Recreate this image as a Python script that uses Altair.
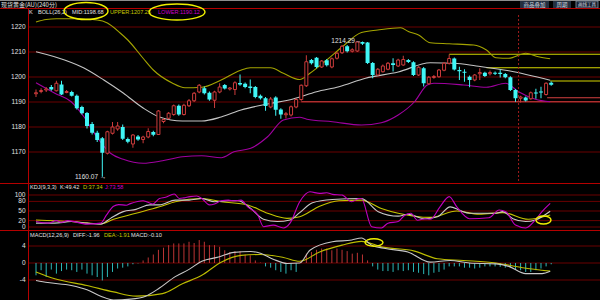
import altair as alt
import pandas as pd

# ---------------- data ----------------
idx = list(range(102))
opens = [1193.3,1194.2,1194.8,1196.0,1194.5,1197.0,1193.8,1194.0,1192.5,1188.0,
         1185.6,1181.2,1177.7,1175.5,1169.5,1177.5,1179.2,1180.0,1175.2,1173.2,
         1176.2,1175.0,1176.0,1178.0,1177.0,1182.2,1183.5,1185.0,1188.5,1185.0,
         1188.5,1190.5,1194.0,
         1195.5,1193.7,1190.7,1194.0,1196.8,1195.2,1195.0,1197.6,1197.3,1196.2,
         1196.0,1192.5,1191.5,1188.0,1191.8,1187.0,1184.9,1184.8,1188.0,1191.0,
         1196.5,1206.8,1207.7,1204.0,1206.7,1204.0,1207.5,1209.7,1212.3,1210.3,
         1210.4,1214.0,1213.8,1205.6,1200.8,1202.1,1203.1,1205.5,1204.4,
         1204.8,1206.8,1205.9,1200.8,1203.5,1197.3,1199.8,1200.1,1202.7,1205.5,
         1207.4,1202.8,1202.1,1200.1,1198.8,1201.3,1201.7,1201.3,1201.7,1201.7,
         1201.2,1199.9,1194.8,1191.5,1191.8,1191.3,1193.8,1194.2,1193.0,1197.7]
closes = [1193.7,1194.6,1195.2,1195.0,1197.5,1193.0,1194.2,1192.5,1187.5,1185.5,
          1180.4,1177.7,1174.8,1169.7,1178.1,1180.0,1180.4,1175.3,1174.1,1176.8,
          1175.0,1176.0,1178.2,1176.9,1186.4,1183.0,1185.5,1188.5,1185.0,1188.7,
          1190.5,1193.5,1196.7,
          1193.5,1191.0,1194.0,1196.0,1195.4,1195.6,1197.7,1197.0,1196.0,1195.6,
          1192.0,1191.5,1188.4,1191.2,1186.9,1185.0,1185.3,1188.1,1191.0,1196.7,
          1206.1,1205.5,1204.0,1206.4,1204.7,1207.3,1209.5,1212.3,1210.3,1210.9,
          1214.0,1213.3,1205.6,1200.8,1203.1,1204.4,1205.5,1204.8,1206.8,
          1207.0,1206.0,1200.8,1203.9,1197.5,1199.9,1200.2,1202.8,1205.5,1207.4,
          1203.0,1202.3,1201.7,1198.8,1200.8,1201.8,1200.4,1201.8,1201.3,1201.2,
          1199.9,1194.8,1191.5,1192.0,1190.6,1193.7,1193.4,1193.8,1197.5,1196.9]
highs = [1195.0,1195.5,1196.0,1196.8,1198.5,1198.5,1194.8,1194.5,1193.0,1188.5,
         1186.0,1182.0,1178.5,1176.0,1178.5,1182.0,1182.0,1181.0,1175.8,1177.2,
         1176.8,1176.5,1179.5,1178.5,1186.8,1183.5,1186.0,1189.0,1189.0,1189.3,
         1191.2,1194.0,1197.2,
         1196.2,1194.2,1194.5,1197.5,1197.2,1196.0,1198.3,1201.0,1197.8,1199.0,
         1196.4,1193.0,1192.0,1192.0,1192.3,1187.5,1186.0,1188.6,1191.5,1197.0,
         1208.7,1207.2,1208.0,1206.8,1207.2,1207.8,1210.0,1212.8,1212.8,1211.5,
         1214.29,1214.2,1214.0,1206.0,1203.6,1205.0,1206.0,1207.5,1207.3,
         1208.5,1207.2,1206.3,1204.3,1204.0,1200.4,1200.8,1203.2,1206.0,1209.0,
         1207.8,1204.1,1203.1,1200.6,1201.2,1203.5,1202.1,1202.6,1202.2,1203.0,
         1201.6,1200.3,1195.2,1192.5,1192.2,1194.2,1195.3,1196.1,1197.9,1198.2]
lows = [1192.0,1193.5,1194.0,1194.5,1194.2,1192.8,1193.5,1192.2,1187.0,1185.0,
        1179.4,1177.0,1174.0,1160.07,1169.0,1177.0,1178.5,1174.8,1173.5,1171.7,
        1174.5,1173.5,1175.5,1176.3,1176.8,1181.5,1183.0,1184.5,1184.5,1184.6,
        1188.0,1190.0,1193.5,
        1193.0,1190.5,1187.6,1193.5,1195.0,1194.6,1192.8,1196.5,1195.5,1193.5,
        1191.5,1191.0,1186.5,1187.5,1184.5,1183.3,1183.4,1184.2,1187.5,1190.5,
        1196.0,1205.0,1203.5,1203.6,1204.2,1203.5,1207.0,1209.2,1209.8,1209.8,
        1210.0,1212.8,1205.2,1199.5,1200.4,1201.8,1202.7,1202.2,1204.0,
        1204.5,1205.6,1200.4,1200.4,1196.2,1197.0,1199.3,1199.7,1202.3,1205.0,
        1202.6,1198.8,1198.1,1195.9,1198.3,1198.8,1200.0,1200.6,1200.8,1199.8,
        1199.5,1194.4,1190.1,1189.8,1190.2,1190.9,1191.3,1191.5,1192.6,1196.5]

# Bollinger bands (sampled along the candle index)
upper_i = [0, 2, 4, 8, 12, 14, 16.5, 18, 21, 23, 26.7, 29.2, 32.5, 36.3, 40, 42, 46, 48.5,
           51.7, 53.7, 57, 60, 63.8, 67, 71.5, 73, 75, 77.3, 81, 85.8, 88.3, 90.2, 92.7,
           96, 98.5, 100.8]
upper_v = [1222.0, 1223.0, 1223.3, 1223.3, 1222.8, 1221.6, 1217.6, 1214.8, 1207.5, 1202.8,
           1197.6, 1195.7, 1195.9, 1198.8, 1202.6, 1203.7, 1203.7, 1201.5, 1199.0, 1201.5,
           1206.8, 1212.0, 1217.8, 1218.8, 1219.7, 1218.2, 1216.8, 1213.7, 1213.3, 1212.8,
           1210.8, 1207.7, 1207.5, 1209.5, 1208.1, 1207.3]
mid_i = [0, 5.6, 9.4, 13.3, 17.1, 21, 24.2, 28.7, 32.5, 36.3, 40.2, 45.4, 50.4, 55, 59.4,
         64.6, 71, 77.3, 82, 86.3, 92.7, 100.8]
mid_v = [1210.1, 1206.8, 1203.6, 1198.8, 1193.6, 1187.6, 1184.0, 1182.4, 1182.4, 1184.0,
         1186.8, 1189.2, 1191.2, 1194.1, 1196.1, 1199.5, 1202.0, 1205.7, 1205.5, 1204.4,
         1202.5, 1198.7]
lower_i = [0, 3.7, 6.9, 9.4, 11.9, 14.6, 17.1, 21, 24.8, 28.7, 32.5, 36.3, 38.8, 42.1, 45.4,
           48.5, 51.7, 53.1, 58.1, 63.8, 67.7, 71, 74.2, 76.7, 78, 83.8, 88.3, 92.1, 94.6,
           97.9, 100.8]
lower_v = [1197.7, 1193.5, 1190.1, 1184.1, 1176.1, 1169.5, 1167.1, 1165.5, 1166.5, 1168.1,
           1168.5, 1167.7, 1170.1, 1171.5, 1176.1, 1182.8, 1183.9, 1183.1, 1182.1, 1180.8,
           1181.7, 1184.8, 1190.1, 1196.8, 1197.5, 1196.8, 1195.9, 1197.5, 1194.1, 1191.1,
           1190.1]

# KDJ
j_i = [0, 2.3, 4, 5, 6.2, 10, 12.7, 13.8, 15.2, 16.2, 17.7, 18.5, 21, 22.9, 24.2, 25.4, 27.1,
       28.1, 29, 30.2, 31.5, 32.5, 34, 35, 36.3, 37.7, 38.8, 40.2, 41.5, 43.5, 44.6, 46.5,
       48.5, 49.8, 51.7, 53.7, 55.6, 57, 58.1, 60, 61.9, 63.3, 63.8, 65.8, 67.7, 69, 71, 72.3,
       73.5, 74.8, 76.2, 77.3, 79.2, 81, 82.5, 85, 88.8, 90.8, 92.1, 94, 96, 97.9, 99.2, 100.8]
j_v = [17, 12, 20, 15, 20, 9, 12, 37, 65, 70, 68, 73, 82, 72, 89, 93, 103, 89, 91, 95, 97, 89,
       69, 72, 82, 84, 82, 84, 63, 37, 1, 6, -3, 12, 79, 110, 105, 107, 102, 100, 79, 89, 89,
       1, -3, 12, 17, 37, 43, 21, 26, 24, 63, 95, 63, 26, 29, 53, 48, 6, -3, 22, 48, 73.6]
k_i = [0, 3.7, 6.9, 10, 12.7, 14.6, 17.1, 19.6, 22.3, 24.2, 27.3, 30, 32.5, 35, 37.7, 39.6,
       42.1, 44.6, 47.3, 49.8, 51.7, 54.2, 58.1, 63.8, 67.1, 71, 72.9, 76.2, 78.7, 81.2, 83.1,
       85, 90.2, 91.5, 93.5, 96, 97.9, 100.8]
k_v = [12, 12, 17, 12, 9, 27, 48, 55, 69, 69, 84, 84, 89, 79, 82, 82, 58, 24, 17, 22, 45, 76,
       86, 89, 48, 34, 40, 26, 32, 63, 52, 43, 43, 48, 26, 17, 22, 49.4]
d_i = [0, 6.9, 12.7, 15.2, 19.6, 24.2, 27.3, 32.5, 36.3, 41.5, 45.4, 49.2, 51.7, 55.6, 59.4,
       63.8, 67.7, 71, 77.3, 82.5, 86.9, 91.5, 96.5, 100.8]
d_v = [22, 17, 10, 24, 43, 63, 79, 89, 79, 69, 43, 27, 32, 65, 82, 84, 58, 43, 30, 50, 40, 45,
       24, 37.3]

# MACD
hist = [-2.9, -1.7, -3.3, -1.55, -2.5, -1.9, -1.55, -1.7, -2.1, -1.55,
        -2.5, -2.9, -3.3, -4.1, -3.3, -2.1, -1.3, -1.1, -0.8, -0.3,
        -0.1, 0.6, 1.3, 2.0, 3.1, 3.6, 4.2, 4.6, 4.6, 4.6,
        5.0, 4.7, 5.4, 5.0, 4.2, 4.2, 3.8, 3.0, 2.6, 2.8,
        2.8, 2.0, 1.8, 0.6, 0.1, -0.8, -1.1, -1.7, -2.1, -2.5,
        -1.7, -2.1, 0.6, 2.2, 2.6, 3.1, 3.4, 3.4, 3.0, 3.4,
        3.1, 2.8, 2.2, 2.4, 2.0, 0.6, -0.8, -1.55, -1.9, -1.9,
        -2.1, -1.7, -1.9, -1.7, -2.1, -2.3, -2.6, -2.9, -2.3, -2.1,
        -1.55, -0.8, -0.8, -0.8, -1.1, -1.1, -1.3, -1.1, -0.8, -0.8,
        -0.8, -0.9, -1.1, -1.1, -1.55, -1.7, -2.1, -2.1, -1.7, -1.3,
        -0.8, -0.3]
diff_i = [0, 2.3, 6.9, 10, 12.7, 15.2, 18.5, 21.5, 24.2, 27.3, 30, 32.5, 35.8, 38.8, 42.1, 44,
          46.5, 49.2, 51.7, 53.7, 58.1, 61.9, 63.8, 65.8, 68.5, 72.9, 77.3, 81.2, 85, 90.2,
          92.7, 96, 99.2, 100.8]
diff_v = [-4.1, -4.6, -5.3, -6.3, -7.8, -8.7, -8.5, -7.8, -5.9, -3.2, -1.5, 0.4, 1.4, 2.5, 2.7,
          2.3, 0.9, -0.1, 0.0, 3.0, 5.0, 5.4, 5.9, 4.2, 3.4, 2.6, 0.2, 0.6, 0.0, -0.2, -0.8,
          -2.5, -2.5, -1.96]
dea_i = [0, 3.7, 10, 15.2, 19.6, 24.8, 28.7, 32.5, 36.3, 40.2, 44, 48.5, 51.7, 55.6, 60, 63.8,
         67.7, 74.2, 78.7, 83.8, 90.2, 95.4, 100.8]
dea_v = [-2.1, -3.7, -5.3, -6.8, -7.8, -7.2, -4.9, -2.9, 0.2, 1.8, 2.0, 1.3, 0.4, 2.6, 4.2, 5.1,
         3.8, 2.8, 1.0, 0.6, 0.0, -1.1, -1.91]

# axis ticks
price_ticks = [1220, 1210, 1200, 1190, 1180, 1170]
kdj_ticks = [100, 80, 50, 20, 0]
macd_ticks = [4, 0, -4]

# drawn horizontal levels (start index, price)
yellow_lv_i = [81, 88.3, 100.8]
yellow_lv_p = [1209.1, 1203.7, 1198.4]
red_lv_i = [52, 100.2]
red_lv_p = [1190.1, 1191.7]
cursor_i = [94.6]

# extreme labels
ext_i = [63, 13]
ext_p = [1214.29, 1160.07]
ext_t = ["1214.29\u2192", "1160.07 \u2192"]

# ---------------- styles ----------------
RED = "#cc3c3c"
CYAN = "#40f6f6"
GRID = "#6a0000"
SEP = "#b40000"
WHITE = "#e0e0e0"
YEL = "#c8c800"
MAG = "#cc00cc"
FONT = "Liberation Sans"

XS = alt.Scale(domain=[0, 101], range=[31, 556.2], nice=False, zero=False)
YP = alt.Scale(domain=[1160, 1220], range=[177, 27], nice=False, zero=False)
YK = alt.Scale(domain=[0, 100], range=[227, 195], nice=False, zero=False)
YM = alt.Scale(domain=[-4, 4], range=[280, 246], nice=False, zero=False)

X = alt.X("i:Q", scale=XS, axis=None)

candles = pd.DataFrame({"i": idx, "o": opens, "h": highs, "l": lows, "c": closes})


def series(xs, ys):
    return pd.DataFrame({"i": xs, "v": ys})


def dummy():
    return alt.Chart(alt.Data(values=[{}]))


def txt(s, x, y, color=WHITE, size=6, align="left", font=FONT):
    return dummy().mark_text(text=s, align=align, baseline="middle", fontSize=size,
                             font=font, color=color).encode(x=alt.value(x), y=alt.value(y))


def hline(y, x0, x1, color, width=1):
    return dummy().mark_rule(color=color, strokeWidth=width).encode(
        x=alt.value(x0), x2=alt.value(x1), y=alt.value(y))


def vline(x, y0, y1, color, width=1):
    return dummy().mark_rule(color=color, strokeWidth=width).encode(
        x=alt.value(x), y=alt.value(y0), y2=alt.value(y1))


def rect(x0, x1, y0, y1, fill, stroke=None):
    kw = {"fill": fill}
    if stroke:
        kw["stroke"] = stroke
        kw["strokeWidth"] = 0.8
    return dummy().mark_rect(**kw).encode(
        x=alt.value(x0), x2=alt.value(x1), y=alt.value(y0), y2=alt.value(y1))


def ell_path(k):
    c = 0.5523
    return (f"M -1 0 C -1 {-c*k:.3f} {-c:.3f} {-k:.3f} 0 {-k:.3f} "
            f"C {c:.3f} {-k:.3f} 1 {-c*k:.3f} 1 0 "
            f"C 1 {c*k:.3f} {c:.3f} {k:.3f} 0 {k:.3f} "
            f"C {-c:.3f} {k:.3f} -1 {c*k:.3f} -1 0 Z")


def ellipse(cx, cy, w, h):
    return dummy().mark_point(shape=ell_path(h / w), size=w * w, filled=False,
                              stroke="#f0f000", strokeWidth=1.4, opacity=1).encode(
        x=alt.value(cx), y=alt.value(cy))


# ---------------- main (price) panel ----------------
grid_main = alt.Chart(pd.DataFrame({"v": price_ticks})).mark_rule(color=GRID).encode(
    y=alt.Y("v:Q", scale=YP, axis=None), x=alt.value(29), x2=alt.value(600))
lab_main = alt.Chart(pd.DataFrame({"v": price_ticks, "t": [str(t) for t in price_ticks]})).mark_text(
    align="right", baseline="middle", fontSize=6.5, font=FONT, color=WHITE).encode(
    y=alt.Y("v:Q", scale=YP, axis=None), x=alt.value(25.5), text="t:N")

lv_y = alt.Chart(pd.DataFrame({"i": yellow_lv_i, "p": yellow_lv_p})).mark_rule(
    color="#d4d400", strokeWidth=1.2).encode(x=X, x2=alt.value(600), y=alt.Y("p:Q", scale=YP, axis=None))
lv_r = alt.Chart(pd.DataFrame({"i": red_lv_i, "p": red_lv_p})).mark_rule(
    color="#d44040", strokeWidth=1.2).encode(x=X, x2=alt.value(600), y=alt.Y("p:Q", scale=YP, axis=None))
cursor = alt.Chart(pd.DataFrame({"i": cursor_i})).mark_rule(
    color="#a01c1c", strokeDash=[2, 2]).encode(x=X, y=alt.value(15), y2=alt.value(183))


def pline(xs, ys, color, scale, width=1.1):
    return alt.Chart(series(xs, ys)).mark_line(color=color, strokeWidth=width,
                                               interpolate="monotone").encode(
        x=X, y=alt.Y("v:Q", scale=scale, axis=None))


upper = pline(upper_i, upper_v, "#a4a400", YP)
mid = pline(mid_i, mid_v, "#c4c4c4", YP)
lower = pline(lower_i, lower_v, "#a000a0", YP)

base = alt.Chart(candles)
wick_up = base.transform_filter("datum.c >= datum.o").mark_rule(color=RED).encode(
    x=X, y=alt.Y("l:Q", scale=YP, axis=None), y2="h:Q")
wick_dn = base.transform_filter("datum.c < datum.o").mark_rule(color=CYAN).encode(
    x=X, y=alt.Y("l:Q", scale=YP, axis=None), y2="h:Q")
body_up = base.transform_filter("datum.c >= datum.o").mark_bar(
    size=3, fill="black", stroke=RED, strokeWidth=1).encode(
    x=X, y=alt.Y("o:Q", scale=YP, axis=None), y2="c:Q")
body_dn = base.transform_filter("datum.c < datum.o").mark_bar(
    size=4, color=CYAN).encode(x=X, y=alt.Y("o:Q", scale=YP, axis=None), y2="c:Q")

ext = alt.Chart(pd.DataFrame({"i": ext_i, "p": ext_p, "t": ext_t})).mark_text(
    align="right", baseline="middle", fontSize=6.5, font=FONT, color=WHITE, dx=4).encode(
    x=X, y=alt.Y("p:Q", scale=YP, axis=None), text="t:N")

main = alt.layer(grid_main, lab_main, lv_r, lv_y, upper, mid, lower,
                 wick_up, wick_dn, body_up, body_dn, cursor, ext)

# ---------------- KDJ panel ----------------
grid_k = alt.Chart(pd.DataFrame({"v": kdj_ticks})).mark_rule(color=GRID).encode(
    y=alt.Y("v:Q", scale=YK, axis=None), x=alt.value(29), x2=alt.value(600))
lab_k = alt.Chart(pd.DataFrame({"v": kdj_ticks, "t": [str(t) for t in kdj_ticks]})).mark_text(
    align="right", baseline="middle", fontSize=6.5, font=FONT, color=WHITE).encode(
    y=alt.Y("v:Q", scale=YK, axis=None), x=alt.value(25.5), text="t:N")
kdj = alt.layer(grid_k, lab_k,
                pline(d_i, d_v, "#c4c400", YK),
                pline(k_i, k_v, "#c8c8c8", YK),
                pline(j_i, j_v, "#c000c0", YK))

# ---------------- MACD panel ----------------
hdf = pd.DataFrame({"i": idx, "v": hist})
grid_m = alt.Chart(pd.DataFrame({"v": macd_ticks})).mark_rule(color=GRID).encode(
    y=alt.Y("v:Q", scale=YM, axis=None), x=alt.value(29), x2=alt.value(600))
lab_m = alt.Chart(pd.DataFrame({"v": macd_ticks, "t": [str(t) for t in macd_ticks]})).mark_text(
    align="right", baseline="middle", fontSize=6.5, font=FONT, color=WHITE).encode(
    y=alt.Y("v:Q", scale=YM, axis=None), x=alt.value(25.5), text="t:N")
h_pos = alt.Chart(hdf).transform_filter("datum.v >= 0").mark_rule(color="#bc3434").encode(
    x=X, y=alt.Y("v:Q", scale=YM, axis=None), y2=alt.datum(0))
h_neg = alt.Chart(hdf).transform_filter("datum.v < 0").mark_rule(color="#2cb8b8").encode(
    x=X, y=alt.Y("v:Q", scale=YM, axis=None), y2=alt.datum(0))
macd = alt.layer(grid_m, lab_m, h_pos, h_neg,
                 pline(dea_i, dea_v, "#bcbc00", YM),
                 pline(diff_i, diff_v, "#c8c8c8", YM))

# ---------------- frame, headers, annotations ----------------
HS = 5.6
decor = alt.layer(
    hline(0.5, 0, 600, "#8c8c8c", 1),
    txt("现货黄金(AU)(240分)", 1, 5, WHITE, 6, font="Noto Sans CJK SC"),
    rect(520, 549, 1, 8, "#243040"),
    txt("商品叠加", 534.5, 4.6, "#d0d8e0", 5.5, align="center", font="Noto Sans CJK SC"),
    rect(553, 571, 1, 8, "#243040"),
    txt("周期", 562, 4.6, "#d0d8e0", 5.5, align="center", font="Noto Sans CJK SC"),
    rect(576, 598, 1, 8, "#1a2430", "#8898a8"),
    txt("画线工具", 587, 4.6, "#d0d8e0", 4.5, align="center", font="Noto Sans CJK SC"),
    hline(8.5, 0, 600, SEP, 1),
    hline(183.5, 0, 600, SEP, 1),
    hline(230.5, 0, 600, SEP, 1),
    vline(28.5, 8.5, 300, SEP, 1),
    txt("K", 29, 12, WHITE, HS),
    txt("BOLL(26,2)", 38, 12, WHITE, HS),
    txt("MID:1198.68", 72, 12, WHITE, HS),
    txt("UPPER:1207.25", 110, 12, YEL, HS),
    txt("LOWER:1190.12", 158, 12, MAG, HS),
    txt("KDJ(9,3,3)", 30, 187, WHITE, HS),
    txt("K:49.42", 60, 187, WHITE, HS),
    txt("D:37.34", 83, 187, YEL, HS),
    txt("J:73.58", 105, 187, MAG, HS),
    txt("MACD(12,26,9)", 30, 235, WHITE, HS),
    txt("DIFF:-1.96", 73, 235, WHITE, HS),
    txt("DEA:-1.91", 104, 235, YEL, HS),
    txt("MACD:-0.10", 131, 235, WHITE, HS),
    ellipse(86, 11, 44, 17),
    ellipse(177, 12, 56, 16),
    ellipse(543.5, 220, 15, 8),
    ellipse(374, 242.5, 18, 7.5),
)

chart = alt.layer(main, kdj, macd, decor).resolve_scale(y="independent").properties(
    width=600, height=300, padding=0,
    autosize=alt.AutoSizeParams(type="none"),
    background="black",
).configure_view(stroke=None)

chart.save("out.html", embed_options={"renderer": "svg", "actions": False})
